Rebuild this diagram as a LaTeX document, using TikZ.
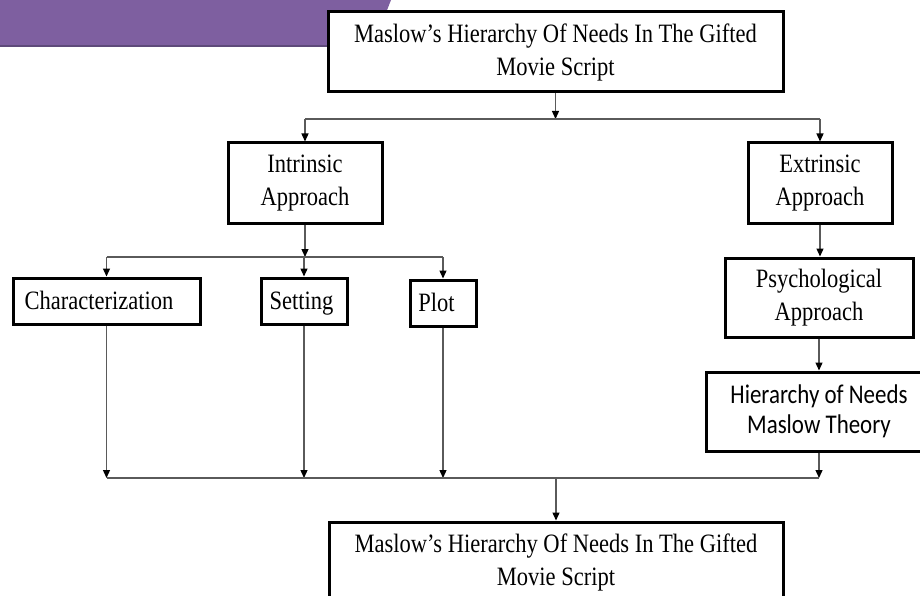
\documentclass[tikz,border=0pt]{standalone}
\usepackage{fontspec}
\usetikzlibrary{arrows.meta}
\newfontfamily\serifc[FakeStretch=0.85]{Liberation Serif}
\newfontfamily\sansc[FakeStretch=0.85]{Carlito}
\definecolor{purp}{HTML}{7E5FA0}
\definecolor{purpdark}{HTML}{5E4A7A}
\definecolor{connc}{HTML}{5A5A5A}
\tikzset{
  box/.style={draw=black, line width=3pt, fill=white, inner sep=0pt, align=center,
    font=\serifc\fontsize{26.5}{33}\selectfont},
  onebox/.style={box, minimum height=46pt, text height=22pt, text depth=5pt},
  sbox/.style={box, font=\sansc\fontsize{27}{30}\selectfont},
  conn/.style={draw=connc, line width=1.3pt},
  arr/.style={conn, -{Triangle[length=8pt,width=7pt,color=black]}},
}
\begin{document}
\begin{tikzpicture}[x=1pt,y=-1pt]
\useasboundingbox (0,0) rectangle (920,596);
\clip (0,0) rectangle (920,596);
% purple banner
\fill[purp] (0,0) -- (391,0) -- (373,46) -- (0,46) -- cycle;
\draw[purpdark, line width=1.5pt] (0,46) -- (373,46);
% nodes
\node[box, minimum width=455pt, minimum height=80pt] (top) at (555.5,52) {Maslow’s Hierarchy Of Needs In The Gifted\\Movie Script};
\node[box, minimum width=154pt, minimum height=80pt] (intr) at (305,183) {Intrinsic\\Approach};
\node[box, minimum width=144pt, minimum height=80pt] (extr) at (820,183) {Extrinsic\\Approach};
\node[onebox, minimum width=187pt] (char) at (106.5,301) {Characterization\hspace*{15pt}};
\node[onebox, minimum width=86pt] (sett) at (304,301) {Setting\hspace*{5pt}};
\node[onebox, minimum width=66pt] (plot) at (443,303) {Plot\hspace*{13pt}};
\node[box, minimum width=188pt, minimum height=79pt] (psy) at (819,297.5) {Psychological\\Approach};
\node[sbox, minimum width=226pt, minimum height=79pt] (hier) at (819,411.5) {Hierarchy of Needs\\Maslow Theory};
\node[box, minimum width=454pt, minimum height=80pt] (bot) at (556,562) {Maslow’s Hierarchy Of Needs In The Gifted\\Movie Script};
% bus coordinates
\coordinate (b1) at (0,119);
\coordinate (b2) at (0,257);
\coordinate (b3) at (0,478);
% connectors
\draw[arr] (top.south) -- (top.south |- b1);
\draw[conn] (intr.north |- b1) -- (extr.north |- b1);
\draw[arr] (intr.north |- b1) -- (intr.north);
\draw[arr] (extr.north |- b1) -- (extr.north);
\draw[arr] (intr.south) -- (intr.south |- b2);
\draw[conn] (char.north |- b2) -- (plot.north |- b2);
\draw[arr] (char.north |- b2) -- (char.north);
\draw[arr] (sett.north |- b2) -- (sett.north);
\draw[arr] (plot.north |- b2) -- (plot.north);
\draw[arr] (extr.south) -- (extr.south |- psy.north);
\draw[arr] (psy.south) -- (hier.north);
\draw[arr] (char.south) -- (char.south |- b3);
\draw[arr] (sett.south) -- (sett.south |- b3);
\draw[arr] (plot.south) -- (plot.south |- b3);
\draw[arr] (hier.south) -- (hier.south |- b3);
\draw[conn] (char.south |- b3) -- (hier.south |- b3);
\draw[arr] (bot.north |- b3) -- (bot.north);
\end{tikzpicture}
\end{document}
